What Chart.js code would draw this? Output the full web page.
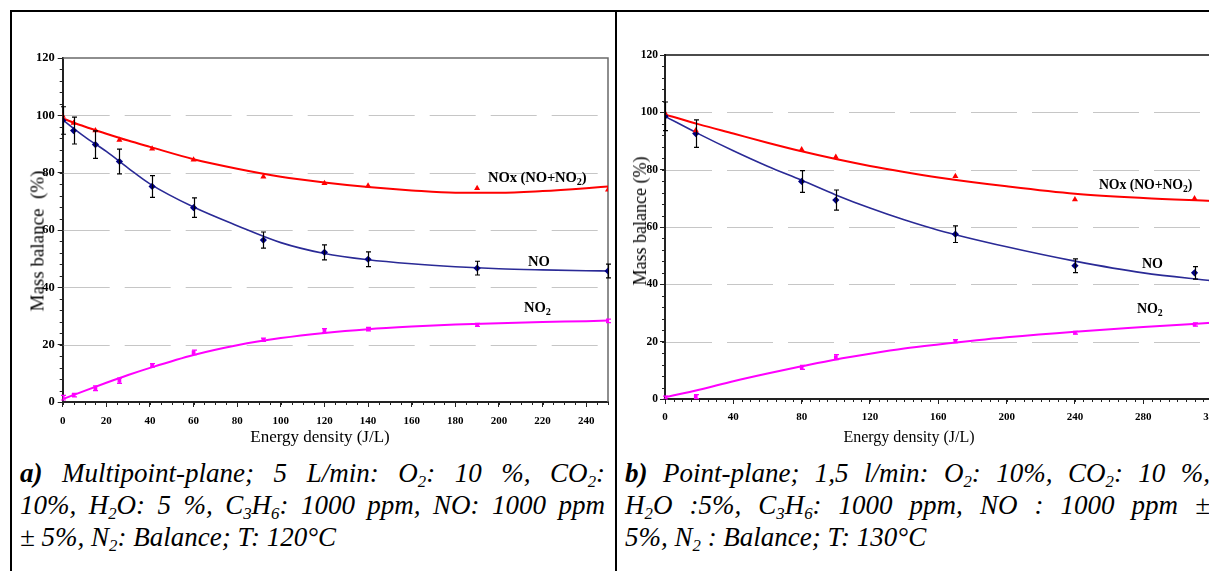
<!DOCTYPE html>
<html>
<head>
<meta charset="utf-8">
<title>NOx mass balance vs energy density</title>
<script src="https://cdn.jsdelivr.net/npm/chart.js@4.4.0/dist/chart.umd.min.js"></script>
<style>
  html, body { margin: 0; padding: 0; width: 1209px; height: 571px; overflow: hidden; background: #fff; }
  #page { position: relative; width: 1240px; height: 571px; font-family: 'Liberation Serif', 'Tinos', 'Times New Roman', 'DejaVu Serif', serif; color: #000; }
  .rule { position: absolute; background: #000; }
  canvas { position: absolute; }
  .lbl { position: absolute; white-space: nowrap; line-height: 1; font-weight: bold; letter-spacing: -0.1px; }
  .axt { position: absolute; white-space: pre; line-height: 1; transform: translate(-50%, -50%); }
  .axt.v { transform: translate(-50%, -50%) rotate(-90deg); }
  .cap { position: absolute; width: 585px; font-style: italic; font-size: 27px; line-height: 1; text-align: justify; text-align-last: justify; }
  .cap.last { text-align: left; text-align-last: left; }
  sub { font-size: 62%; vertical-align: baseline; position: relative; top: 0.28em; line-height: 0; }
  .lbl sub { font-size: 70%; }
</style>
</head>
<body>
<div id="page">
  <div class="rule" style="left:10px; top:10px; width:1230px; height:2px;"></div>
  <div class="rule" style="left:10px; top:10px; width:2px; height:561px;"></div>
  <div class="rule" style="left:615px; top:10px; width:2px; height:561px;"></div>

  <canvas id="chartA" width="600" height="400" style="left:12px; top:40px; width:600px; height:400px;"></canvas>
  <canvas id="chartB" width="610" height="400" style="left:618px; top:40px; width:610px; height:400px;"></canvas>

  <!-- axis titles -->
  <div class="axt" style="left:320px; top:436px; font-size:17px;">Energy density (J/L)</div>
  <div class="axt v" style="left:37px; top:241px; font-size:19px;">Mass balance  (%)</div>
  <div class="axt" style="left:909px; top:437px; font-size:16px;">Energy density (J/L)</div>
  <div class="axt v" style="left:640px; top:221px; font-size:18px;">Mass balance (%)</div>

  <!-- curve labels -->
  <div class="lbl" style="left:488px; top:170px; font-size:14.6px;">NOx (NO+NO<sub>2</sub>)</div>
  <div class="lbl" style="left:528px; top:254px; font-size:14.6px;">NO</div>
  <div class="lbl" style="left:524px; top:300px; font-size:14.6px;">NO<sub>2</sub></div>
  <div class="lbl" style="left:1099px; top:178px; font-size:13.8px;">NOx (NO+NO<sub>2</sub>)</div>
  <div class="lbl" style="left:1142px; top:257px; font-size:14px;">NO</div>
  <div class="lbl" style="left:1137px; top:302px; font-size:14px;">NO<sub>2</sub></div>

  <!-- captions -->
  <div class="cap" style="left:20px; top:460px;"><b>a)</b> Multipoint-plane; 5 L/min: O<sub>2</sub>: 10 %, CO<sub>2</sub>:</div>
  <div class="cap" style="left:20px; top:492px;">10%, H<sub>2</sub>O: 5 %, C<sub>3</sub>H<sub>6</sub>: 1000 ppm, NO: 1000 ppm</div>
  <div class="cap last" style="left:20px; top:524px;">± 5%, N<sub>2</sub>: Balance; T: 120°C</div>

  <div class="cap" style="left:625px; top:460px;"><b>b)</b> Point-plane; 1,5 l/min: O<sub>2</sub>: 10%, CO<sub>2</sub>: 10 %,</div>
  <div class="cap" style="left:625px; top:492px;">H<sub>2</sub>O :5%, C<sub>3</sub>H<sub>6</sub>: 1000 ppm, NO : 1000 ppm ±</div>
  <div class="cap last" style="left:625px; top:524px;">5%, N<sub>2</sub> : Balance; T: 130°C</div>
</div>

<script>
// ---------- a) multipoint-plane reactor ----------
const energyA     = [0, 5, 15, 26, 41, 60, 92, 120, 140, 190, 250];
const noxA        = [99.8, 97.3, 94.7, 91.4, 88.3, 84.5, 78.6, 76.3, 75.4, 74.6, 74.0];
const noA         = [98.2, 94.7, 89.8, 83.9, 75.2, 67.8, 56.5, 52.2, 49.8, 46.7, 45.7];
const noErrA      = [4.8, 4.7, 4.8, 4.3, 3.8, 3.4, 2.8, 2.6, 2.6, 2.4, 2.4];
const no2A        = [1.5, 2.4, 4.8, 7.4, 12.8, 17.3, 21.7, 24.9, 25.4, 26.9, 28.3];
const no2ErrA     = [0.8, 0.6, 0.8, 0.9, 0.6, 0.8, 0.6, 0.7, 0.6, 0.5, 0.6];

// fitted trend curves, sampled along the energy axis
const fitEnergyA  = [0, 10, 20, 30, 40, 60, 80, 100, 120, 140, 160, 180, 200, 220, 240, 250];
const fitNoxA     = [98.9, 96.1, 93.6, 91.2, 89.0, 84.7, 81.4, 78.6, 76.6, 75.0, 73.8, 73.0, 73.0, 73.6, 74.6, 75.2];
const fitNoA      = [98.4, 92.6, 87.4, 81.6, 76.1, 68.0, 61.5, 55.6, 51.8, 49.6, 48.2, 47.2, 46.5, 46.1, 45.8, 45.7];
const fitNo2A     = [1.0, 3.9, 6.7, 9.4, 11.9, 16.4, 19.8, 22.3, 24.1, 25.4, 26.3, 27.0, 27.5, 27.9, 28.2, 28.4];

// ---------- b) point-plane reactor ----------
const energyB     = [0, 18, 80, 100, 170, 240, 310];
const noxB        = [99.8, 93.7, 87.0, 84.4, 77.7, 69.6, 69.9];
const noB         = [98.6, 92.6, 75.9, 69.4, 57.5, 46.5, 44.0];
const noErrB      = [5.0, 4.8, 3.8, 3.5, 2.9, 2.4, 2.2];
const no2B        = [0.5, 0.8, 11.0, 14.6, 20.2, 23.1, 26.0];
const no2ErrB     = [0.5, 0.7, 0.7, 0.9, 0.5, 0.5, 0.6];

const fitEnergyB  = [0, 20, 40, 60, 80, 100, 120, 140, 160, 200, 240, 280, 320];
const fitNoxB     = [99.3, 95.8, 92.6, 89.4, 86.4, 83.7, 81.3, 79.2, 77.3, 74.2, 71.6, 70.1, 69.1];
const fitNoB      = [98.6, 92.4, 86.6, 81.2, 76.3, 71.2, 66.6, 62.5, 58.9, 53.1, 48.1, 44.0, 41.3];
const fitNo2B     = [0.6, 3.2, 6.2, 8.9, 11.4, 13.8, 15.8, 17.6, 19.0, 21.5, 23.5, 25.1, 26.6];

// axis ticks
const yTicks      = [0, 20, 40, 60, 80, 100, 120];
const dashedRows  = [20, 40, 60, 80, 100];

const RED = '#ff0000', NAVY = '#000080', BLUE = '#2a2a96', MAGENTA = '#ff00ff';
const SERIF = "'Liberation Serif', 'Tinos', 'Times New Roman', 'DejaVu Serif', serif";

const pts = (xs, ys) => xs.map((x, i) => ({ x, y: ys[i] }));

// dashed rows, plot frame, error bars, minor ticks
const decor = {
  id: 'decor',
  beforeDatasetsDraw(chart, args, o) {
    const { ctx, chartArea: a, scales: { y } } = chart;
    ctx.save();
    ctx.strokeStyle = '#c6c6c6';
    ctx.lineWidth = 1;
    ctx.setLineDash([46, 15]);
    for (const v of o.rows) {
      const py = Math.round(y.getPixelForValue(v)) + 0.5;
      ctx.beginPath(); ctx.moveTo(a.left + 1, py); ctx.lineTo(a.right, py); ctx.stroke();
    }
    ctx.setLineDash([]);
    ctx.strokeStyle = o.frameColor;
    ctx.lineWidth = 1.5;
    ctx.beginPath();
    ctx.moveTo(a.left, a.top); ctx.lineTo(a.right, a.top); ctx.lineTo(a.right, a.bottom);
    ctx.stroke();
    ctx.restore();
  },
  afterDatasetsDraw(chart, args, o) {
    const { ctx, scales: { x, y } } = chart;
    ctx.save();
    for (const bar of o.errors) {
      ctx.strokeStyle = bar.color;
      ctx.lineWidth = 1.2;
      bar.xs.forEach((xv, i) => {
        const px = Math.round(x.getPixelForValue(xv)) + 0.5;
        const top = y.getPixelForValue(bar.ys[i] + bar.err[i]);
        const bot = y.getPixelForValue(bar.ys[i] - bar.err[i]);
        ctx.beginPath();
        ctx.moveTo(px, top); ctx.lineTo(px, bot);
        ctx.moveTo(px - bar.cap, top); ctx.lineTo(px + bar.cap, top);
        ctx.moveTo(px - bar.cap, bot); ctx.lineTo(px + bar.cap, bot);
        ctx.stroke();
      });
    }
    ctx.restore();
  },
  afterDraw(chart, args, o) {
    const { ctx, chartArea: a, scales: { x, y } } = chart;
    ctx.save();
    ctx.strokeStyle = '#222';
    ctx.lineWidth = 1;
    for (let v = 0; v <= x.max; v += o.minorX) {
      const px = Math.round(x.getPixelForValue(v)) + 0.5;
      ctx.beginPath(); ctx.moveTo(px, a.bottom); ctx.lineTo(px, a.bottom + 3); ctx.stroke();
    }
    for (let v = 0; v <= y.max; v += o.minorY) {
      const py = Math.round(y.getPixelForValue(v)) + 0.5;
      ctx.beginPath(); ctx.moveTo(a.left - 3, py); ctx.lineTo(a.left, py); ctx.stroke();
    }
    ctx.restore();
  }
};

function build(id, s) {
  return new Chart(document.getElementById(id), {
    type: 'scatter',
    data: {
      datasets: [
        { data: pts(s.ex, s.nox), pointStyle: 'triangle', pointRadius: 3.5, backgroundColor: RED, borderColor: RED, borderWidth: 0 },
        { data: pts(s.ex, s.no), pointStyle: 'rectRot', pointRadius: 3.6, backgroundColor: NAVY, borderColor: NAVY, borderWidth: 0 },
        { data: pts(s.ex, s.no2), pointStyle: 'rect', pointRadius: 2.6, backgroundColor: MAGENTA, borderColor: MAGENTA, borderWidth: 0 },
        { data: pts(s.fx, s.fnox), showLine: true, pointRadius: 0, borderColor: RED, borderWidth: 2, cubicInterpolationMode: 'monotone' },
        { data: pts(s.fx, s.fno), showLine: true, pointRadius: 0, borderColor: BLUE, borderWidth: 1.6, cubicInterpolationMode: 'monotone' },
        { data: pts(s.fx, s.fno2), showLine: true, pointRadius: 0, borderColor: MAGENTA, borderWidth: 2, cubicInterpolationMode: 'monotone' }
      ]
    },
    options: {
      responsive: false,
      animation: false,
      devicePixelRatio: 1,
      events: [],
      layout: { padding: { top: s.padTop, right: s.padRight, left: 0, bottom: 0 } },
      plugins: {
        legend: { display: false },
        tooltip: { enabled: false },
        decor: {
          rows: dashedRows,
          frameColor: s.frameColor,
          minorX: s.minorX,
          minorY: 4,
          errors: [
            { xs: s.ex, ys: s.no, err: s.noErr, color: '#000', cap: 2.5 },
            { xs: s.ex, ys: s.no2, err: s.no2Err, color: MAGENTA, cap: 2.5 }
          ]
        }
      },
      scales: {
        x: {
          type: 'linear', min: 0, max: s.xMax,
          afterFit: sc => { sc.height = s.xHeight; },
          grid: { drawOnChartArea: false, drawTicks: true, tickLength: 5, tickColor: '#222', tickWidth: 1 },
          border: { display: true, color: '#222', width: 2 },
          ticks: { stepSize: s.xStep, includeBounds: false, padding: s.xPad, color: '#000',
                   font: { family: SERIF, weight: 'bold', size: 11 }, maxRotation: 0, autoSkip: false,
                   callback: v => (v % s.xStep === 0 ? String(v) : '') }
        },
        y: {
          type: 'linear', min: 0, max: 120,
          afterFit: sc => { sc.width = s.yWidth; },
          afterBuildTicks: sc => { sc.ticks = yTicks.map(v => ({ value: v })); },
          grid: { drawOnChartArea: false, drawTicks: true, tickLength: 5, tickColor: '#222', tickWidth: 1 },
          border: { display: true, color: '#222', width: 2 },
          ticks: { padding: s.yPad, color: '#000', font: { family: SERIF, weight: 'bold', size: s.ySize } }
        }
      }
    },
    plugins: [decor]
  });
}

build('chartA', {
  ex: energyA, nox: noxA, no: noA, noErr: noErrA, no2: no2A, no2Err: no2ErrA,
  fx: fitEnergyA, fnox: fitNoxA, fno: fitNoA, fno2: fitNo2A,
  xMax: 250, xStep: 20, minorX: 5,
  padTop: 18, padRight: 3, yWidth: 50.7, xHeight: 38, xPad: 8, yPad: 3, ySize: 12.5,
  frameColor: '#6a6a6a'
});

build('chartB', {
  ex: energyB, nox: noxB, no: noB, noErr: noErrB, no2: no2B, no2Err: no2ErrB,
  fx: fitEnergyB, fnox: fitNoxB, fno: fitNoB, fno2: fitNo2B,
  xMax: 320, xStep: 40, minorX: 5,
  padTop: 15, padRight: 16.4, yWidth: 47, xHeight: 41, xPad: 7, yPad: 2, ySize: 11.5,
  frameColor: '#111'
});
</script>
</body>
</html>
